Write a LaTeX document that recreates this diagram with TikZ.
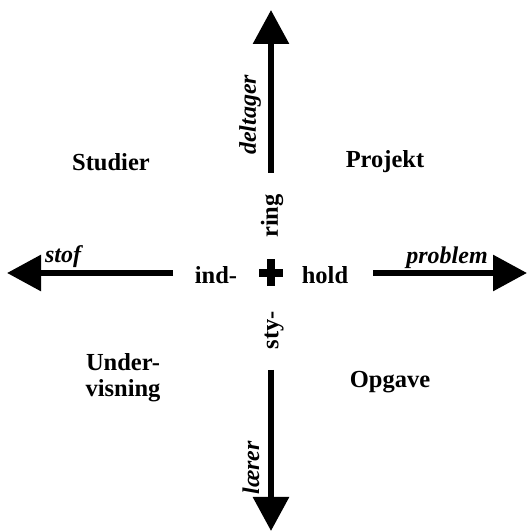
\documentclass[tikz,border=0pt]{standalone}
\usepackage{fontspec}
\setmainfont{Liberation Serif}
\usetikzlibrary{arrows.meta}
\begin{document}
\begin{tikzpicture}[x=1pt,y=1pt,
  lbl/.style={font=\fontsize{24.5}{26}\selectfont\bfseries, inner sep=0pt, align=center},
  ilbl/.style={font=\fontsize{24}{26}\selectfont\bfseries\itshape, inner sep=0pt},
  bigarrow/.style={line width=6pt, -{Triangle[width=35pt,length=34pt]}}]
\useasboundingbox (0,0) rectangle (527,532);
% arrow end points
\coordinate (upS) at (271,359);
\coordinate (upE) at (271,522);
\coordinate (dnS) at (271,162);
\coordinate (dnE) at (271,1);
\coordinate (lfS) at (173,259);
\coordinate (lfE) at (7,259);
\coordinate (rtS) at (373,259);
\coordinate (rtE) at (527,259);
\draw[bigarrow] (upS) -- (upE);
\draw[bigarrow] (dnS) -- (dnE);
\draw[bigarrow] (lfS) -- (lfE);
\draw[bigarrow] (rtS) -- (rtE);
% plus
\coordinate (plus) at (270.5,259);
\fill (plus) ++(-12,-4) rectangle ++(24,8);
\fill (plus) ++(-4,-13.5) rectangle ++(8,27);
% arrow labels
\node[ilbl, rotate=90] (deltager) at (250,417) {deltager};
\node[ilbl, rotate=90] (laerer) at (251,64) {lærer};
\node[ilbl] (stof) at (63,275) {stof};
\node[ilbl] (problem) at (447,274) {problem};
% centre word
\node[lbl, rotate=90] (ring) at (272,316) {ring};
\node[lbl, rotate=90] (sty) at (274,202) {sty-};
\node[lbl] (ind) at (216,257) {ind-};
\node[lbl] (hold) at (325,257) {hold};
% quadrants
\node[lbl] (studier) at (111,370) {Studier};
\node[lbl] (projekt) at (385,370) {Projekt};
\node[lbl] (undervisning) at (123,154) {Under-\\visning};
\node[lbl] (opgave) at (390,150) {Opgave};
\end{tikzpicture}
\end{document}
